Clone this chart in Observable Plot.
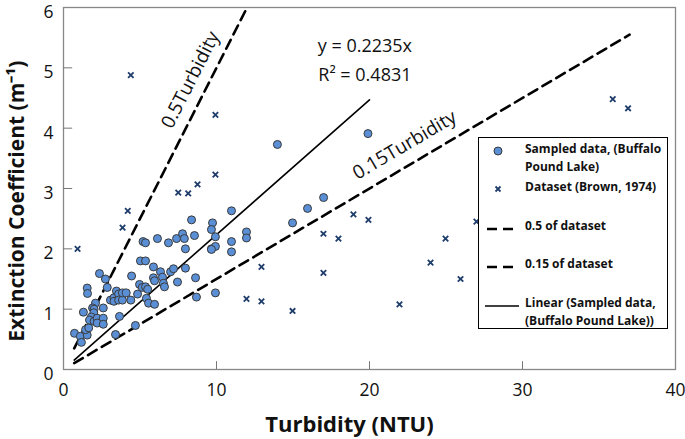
<!DOCTYPE html>
<html><head><meta charset="utf-8">
<script src="https://cdn.jsdelivr.net/npm/d3@7"></script>
<script src="https://cdn.jsdelivr.net/npm/@observablehq/plot@0.6"></script>
<style>
body{margin:0;background:#fff;}
#wrap{position:relative;width:685px;height:439px;font-family:"Open Sans",sans-serif;}
#legend{position:absolute;left:478px;top:137px;width:188px;height:190px;border:1.5px solid #000;background:#fff;font-weight:bold;font-size:12px;line-height:18px;color:#111;}
#legend .it{position:absolute;left:0;width:188px;}
#legend .sym{position:absolute;left:6px;width:34px;}
#legend .tx{position:absolute;left:46px;}
</style></head>
<body><div id="wrap"></div>
<script>
// Sampled data (Buffalo Pound Lake): turbidity (NTU), extinction coefficient (1/m)
const sampledX = [0.72,1.1,1.17,1.55,1.44,1.65,1.3,1.55,1.57,2.35,2.74,2.86,2.09,1.9,2.0,1.98,1.82,1.7,2.0,2.2,2.2,2.6,2.6,2.6,3.4,3.66,3.07,3.3,3.46,3.6,3.3,3.6,3.85,3.85,4.1,4.4,4.45,4.7,4.84,4.97,5.03,5.36,5.2,5.36,5.15,5.36,5.5,5.42,5.56,5.95,5.88,5.88,5.95,6.14,6.34,6.47,6.53,6.6,6.86,7.0,7.19,7.39,7.45,7.78,7.9,7.97,7.97,8.37,8.56,8.63,8.69,9.67,9.74,9.67,9.93,9.93,9.67,9.93,10.98,10.98,10.98,11.96,11.96,13.98,19.9,17.0,15.95,14.97];
const sampledY = [0.6,0.55,0.45,0.57,0.66,0.69,0.95,1.35,1.26,1.59,1.5,1.36,1.1,1.02,1.0,0.94,0.87,0.82,0.8,0.85,0.77,1.02,0.85,0.75,0.58,0.88,1.15,1.19,1.3,1.25,1.13,1.15,1.15,1.27,1.27,1.15,1.55,0.73,1.25,1.41,1.8,1.8,2.12,2.1,1.36,1.37,1.33,1.18,1.1,1.08,1.7,1.52,1.47,2.17,1.62,1.53,1.43,1.37,2.1,1.62,1.67,2.17,1.45,2.25,2.17,2.0,1.68,2.48,2.22,1.52,1.2,2.0,2.43,2.32,2.2,2.04,1.99,1.27,2.63,2.12,1.95,2.28,2.18,3.73,3.91,2.85,2.67,2.43];
// Dataset (Brown, 1974)
const brownX = [0.92,4.4,4.2,3.86,7.5,8.15,8.76,9.93,9.93,11.96,12.94,12.94,14.97,16.99,17.97,18.95,19.93,16.99,21.96,23.99,24.97,25.95,26.99,35.9,36.9];
const brownY = [2.0,4.88,2.63,2.35,2.93,2.92,3.07,3.23,4.22,1.17,1.13,1.7,0.97,2.25,2.17,2.57,2.48,1.6,1.08,1.77,2.17,1.5,2.45,4.48,4.33];
// reference lines (slopes) and their x extents
const slopeHalf = 0.5, halfX = [0.7, 12];
const slopeFifteen = 0.15, fifteenX = [0.7, 37];
const slopeFit = 0.2235, fitX = [0.7, 20];
const xTicks = [0,10,20,30,40];
const yTicks = [0,1,2,3,4,5,6];

const sampled = sampledX.map((x,i)=>({x, y: sampledY[i]}));
const brown = brownX.map((x,i)=>({x, y: brownY[i]}));
const lineData = (xs, k) => xs.map(x => ({x, y: k*x}));

const font = '"Open Sans", sans-serif';
const chart = Plot.plot({
  width: 685, height: 439,
  marginLeft: 63, marginRight: 10, marginTop: 7, marginBottom: 70,
  x: {domain: [0,40]}, y: {domain: [0,6]},
  style: {fontFamily: font, color: "#111", background: "#fff", overflow: "visible"},
  marks: [
    Plot.frame({stroke: "#888", strokeWidth: 1.3}),
    Plot.ruleY(yTicks.slice(1,-1), {x1: 0, x2: 0.6, stroke: "#777"}),
    Plot.ruleX(xTicks.slice(1,-1), {y1: 0, y2: 0.13, stroke: "#777"}),
    Plot.axisX({ticks: xTicks, tickSize: 0, tickPadding: 14, fontSize: 17.5, label: null, tickFormat: d => d}),
    Plot.axisY({ticks: yTicks, tickSize: 0, tickPadding: 10, dy: 5, fontSize: 17.5, label: null, tickFormat: d => d}),
    Plot.line(lineData(halfX, slopeHalf), {x: "x", y: "y", stroke: "#000", strokeWidth: 2.6, strokeDasharray: "10,6"}),
    Plot.line(lineData(fifteenX, slopeFifteen), {x: "x", y: "y", stroke: "#000", strokeWidth: 2.6, strokeDasharray: "10,6"}),
    Plot.line(lineData(fitX, slopeFit), {x: "x", y: "y", stroke: "#000", strokeWidth: 1.6}),
    Plot.dot(brown, {x: "x", y: "y", symbol: "times", r: 2.6, stroke: "#1f3d6b", strokeWidth: 1.8}),
    Plot.dot(sampled, {x: "x", y: "y", r: 4, fill: "#5a8fd6", stroke: "#3a3a3a", strokeWidth: 1}),
    Plot.text(["y = 0.2235x"], {x: 19.7, y: 5.35, fontSize: 18, textAnchor: "middle", fill: "#111"}),
    Plot.text(["R\u00b2 = 0.4831"], {x: 19.7, y: 4.88, fontSize: 18, textAnchor: "middle", fill: "#111"}),
    Plot.text(["0.5Turbidity"], {x: 8.3, y: 4.8, fontSize: 19, rotate: -63, textAnchor: "middle", fill: "#111"}),
    Plot.text(["0.15Turbidity"], {x: 22.3, y: 3.72, fontSize: 19, rotate: -30.5, textAnchor: "middle", fill: "#111"}),
    Plot.text(["Turbidity (NTU)"], {frameAnchor: "bottom", dy: 55, dx: -20, lineAnchor: "middle", textAnchor: "middle", fontSize: 22, fontWeight: "bold", fill: "#111"}),
    Plot.text(["Extinction Coefficient (m\u207b\u00b9)"], {x: 0, y: 2.79, dx: -46, rotate: -90, lineAnchor: "middle", textAnchor: "middle", fontSize: 21, fontWeight: "bold", fill: "#111"})
  ]
});
const wrap = document.getElementById("wrap");
wrap.appendChild(chart);

const leg = document.createElement("div");
leg.id = "legend";
const dash = '<svg width="34" height="10"><line x1="2" y1="5" x2="32" y2="5" stroke="#000" stroke-width="2.6" stroke-dasharray="10,6"/></svg>';
leg.innerHTML = `
<div class="it" style="top:2px"><div class="sym" style="top:4px"><svg width="34" height="12"><circle cx="13" cy="6" r="4" fill="#5a8fd6" stroke="#3a3a3a"/></svg></div><div class="tx">Sampled data, (Buffalo<br>Pound Lake)</div></div>
<div class="it" style="top:40px"><div class="sym" style="top:4px"><svg width="34" height="12"><path d="M10.5,3.5L15.5,8.5M15.5,3.5L10.5,8.5" stroke="#1f3d6b" stroke-width="1.8"/></svg></div><div class="tx">Dataset (Brown, 1974)</div></div>
<div class="it" style="top:79px"><div class="sym" style="top:4px">${dash}</div><div class="tx">0.5 of dataset</div></div>
<div class="it" style="top:117px"><div class="sym" style="top:4px">${dash}</div><div class="tx">0.15 of dataset</div></div>
<div class="it" style="top:156px"><div class="sym" style="top:4px"><svg width="34" height="10"><line x1="0" y1="5" x2="34" y2="5" stroke="#000" stroke-width="1.6"/></svg></div><div class="tx">Linear (Sampled data,<br>(Buffalo Pound Lake))</div></div>`;
wrap.appendChild(leg);
</script></body></html>
